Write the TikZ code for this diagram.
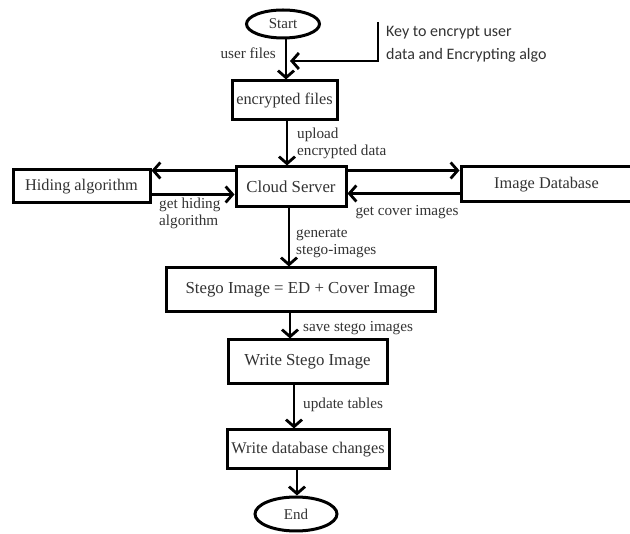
\documentclass[tikz,border=0pt]{standalone}
\usepackage{fontspec}
\setmainfont{Liberation Serif}
\newfontfamily\keyfont{Carlito}
\usetikzlibrary{arrows.meta,shapes.geometric,calc}
\definecolor{txt}{HTML}{333333}
\begin{document}
\begin{tikzpicture}[x=1pt,y=-1pt,
  box/.style={draw=black,line width=3pt,rectangle,inner sep=0pt,text=txt,font=\fontsize{16.3}{18}\selectfont},
  term/.style={draw=black,line width=3pt,ellipse,inner sep=0pt,text=txt,font=\fontsize{15}{18}\selectfont},
  arr/.style={line width=2.8pt,-{Straight Barb[length=7pt,width=16pt]}},
  lbl/.style={text=txt,font=\fontsize{15.2}{17}\selectfont,align=left,inner sep=0pt},
]
\useasboundingbox[fill=white] (0,0) rectangle (630,534);

% nodes
\node[term,minimum width=73pt,minimum height=28pt] (start) at (283,24) {Start};
\node[box,minimum width=105pt,minimum height=39pt] (enc) at (284.5,100.5) {encrypted files};
\node[box,minimum width=110pt,minimum height=40pt,font=\fontsize{16.8}{18}\selectfont] (cloud) at (291,187) {Cloud Server};
\node[box,minimum width=137pt,minimum height=33pt] (hiding) at (81.5,186.5) {Hiding algorithm};
\node[box,minimum width=171pt,minimum height=35pt] (imgdb) at (546.5,184.5) {Image Database};
\node[box,minimum width=269pt,minimum height=44pt,font=\fontsize{16.8}{18}\selectfont] (stego) at (300.5,290) {Stego Image = ED + Cover Image};
\node[box,minimum width=159pt,minimum height=44pt,font=\fontsize{16.8}{18}\selectfont] (wstego) at (307.5,362) {Write Stego Image};
\node[box,minimum width=162pt,minimum height=39pt] (wdb) at (308,449.5) {Write database changes};
\node[term,minimum width=82pt,minimum height=34pt] (end) at (296,514) {End};

% labels
\node[lbl,anchor=east] (lufiles) at (276,53) {user files};
\node[lbl,anchor=west] (lupload) at (297,143.5) {upload\\encrypted data};
\node[lbl,anchor=west] (lhiding) at (159,213.5) {get hiding\\algorithm};
\node[lbl] (lcover) at (407,212) {get cover images};
\node[lbl,anchor=west] (lgen) at (296,243.5) {generate\\stego-images};
\node[lbl,anchor=west] (lsave) at (303,328) {save stego images};
\node[lbl,anchor=west] (lupdate) at (303,405) {update tables};
\node[lbl,anchor=west,font=\keyfont\fontsize{16}{23}\selectfont] (key) at (386,44) {Key to encrypt user\\data and Encrypting algo};

% vertical flow
\coordinate (s1) at ($(start.south)+(3,0)$);
\draw[arr] (s1) -- (s1 |- enc.north);
\coordinate (e1) at ($(enc.south)+(2.5,0)$);
\draw[arr] (e1) -- (e1 |- cloud.north);
\coordinate (c1) at ($(cloud.south)+(-2,0)$);
\draw[arr] (c1) -- (c1 |- stego.north);
\coordinate (g1) at ($(stego.south)+(-10.5,0)$);
\draw[arr] (g1) -- (g1 |- wstego.north);
\coordinate (w1) at ($(wstego.south)+(-13.5,0)$);
\draw[arr] (w1) -- (w1 |- wdb.north);
\coordinate (d1) at ($(wdb.south)+(-11,0)$);
\draw[arr] (d1) -- (d1 |- end.north);

% key input
\coordinate (keytop) at (378,22);
\coordinate (keycorner) at (378,61);
\draw[arr,shorten >=4pt] (keytop) -- (keycorner) -- (keycorner -| s1);

% side arrows
\coordinate (cl1) at ($(cloud.north west)+(0,5)$);
\draw[arr] (cl1) -- (cl1 -| hiding.east);
\coordinate (cl2) at ($(cloud.south west)+(0,-14)$);
\draw[arr] (cl2 -| hiding.east) -- (cl2);
\coordinate (cr1) at ($(cloud.north east)+(0,5)$);
\draw[arr] (cr1) -- (cr1 -| imgdb.west);
\coordinate (cr2) at ($(cloud.south east)+(0,-15)$);
\draw[arr] (cr2 -| imgdb.west) -- (cr2);
\end{tikzpicture}
\end{document}
